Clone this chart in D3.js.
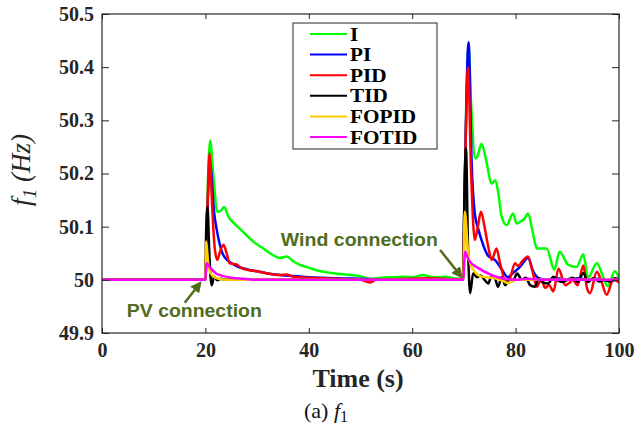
<!DOCTYPE html>
<html>
<head>
<meta charset="utf-8">
<script src="https://cdn.jsdelivr.net/npm/d3@7"></script>
<style>
  html, body { margin: 0; padding: 0; background: #fff; }
  svg { display: block; }
</style>
</head>
<body>
<svg id="chart" width="636" height="432"></svg>
<script>
// ---------------- DATA ----------------
const seriesNames = ["I", "PI", "PID", "TID", "FOPID", "FOTID"];
const seriesColors = ["#00ff00", "#0000ff", "#ff0000", "#000000", "#ffcc00", "#ff00ff"];
const xTicks = [0, 20, 40, 60, 80, 100];
const yTicks = [49.9, 50, 50.1, 50.2, 50.3, 50.4, 50.5];
const yTickLabels = ["49.9", "50", "50.1", "50.2", "50.3", "50.4", "50.5"];

// [time (s), f1 (Hz)]
const dataI = [[0,50],[20,50],[20.3,50.12],[20.9,50.262],[21.5,50.2],[22.3,50.128],[23.0,50.13],[23.6,50.137],[24.5,50.118],[25.9,50.103],[27,50.093],[28,50.083],[29.5,50.07],[31.2,50.059],[32.5,50.05],[34.4,50.041],[35.7,50.044],[37,50.035],[38.3,50.028],[40,50.023],[41.5,50.018],[43.5,50.014],[46,50.011],[48,50.009],[49.9,50.007],[51.8,50.002],[54,50.004],[56.3,50.005],[58.5,50.006],[60,50.005],[62.1,50.009],[63.5,50.006],[65.4,50.005],[66.5,50.006],[68,50.003],[69.8,50.002],[70.1,50.15],[70.9,50.44],[71.4,50.33],[72.2,50.228],[72.6,50.232],[73.4,50.256],[74.2,50.23],[75.4,50.181],[76.1,50.1875],[76.7,50.16],[77.3,50.119],[78.3,50.103],[79.5,50.125],[80.2,50.106],[81,50.11],[81.8,50.116],[82.4,50.125],[83.3,50.09],[84.1,50.059],[86,50.059],[87.5,50.019],[88.5,50.053],[90.2,50.028],[91.8,50.024],[93.1,50.048],[94,50.004],[95.7,50.031],[97,50.004],[97.8,49.988],[99.2,50.016],[100,50.003]];
const dataPI = [[0,50],[20,50],[20.3,50.1],[20.9,50.218],[21.7,50.125],[22.2,50.094],[23.3,50.05],[24.5,50.035],[26,50.026],[28,50.02],[30,50.016],[32,50.012],[34.4,50.009],[37,50.007],[40,50.005],[45,50.003],[50,50.002],[55,50.001],[60,50.001],[65,50.001],[69.8,50.001],[70.1,50.15],[70.9,50.447],[71.5,50.22],[72.1,50.125],[72.8,50.095],[73.4,50.075],[74.7,50.045],[76,50.0375],[77.3,50.02],[78.5,50.005],[79.4,50.012],[80.9,50.025],[82.4,50.041],[83.4,50.016],[84.5,50.003],[86,50.0],[88,50.003],[90,50.0],[92,50.003],[94,50.0],[96,50.002],[98,49.998],[100,50.001]];
const dataPID = [[0,50],[20,50],[20.3,50.1],[20.8,50.238],[21.3,50.14],[21.8,50.06],[22.3,50.0375],[22.9,50.055],[23.5,50.066],[24.1,50.05],[24.7,50.031],[25.4,50.03],[26,50.029],[27,50.022],[28,50.019],[30,50.016],[32,50.012],[34.4,50.009],[35.7,50.01],[37,50.006],[40,50.004],[45,50.002],[50,50.0],[51.8,49.995],[53,50.0],[56,50.001],[60,50.002],[63,50.003],[66,50.002],[69.8,50.001],[70.1,50.14],[70.8,50.40],[71.4,50.2],[72.1,50.075],[72.7,50.1],[73.3,50.128],[74.1,50.094],[74.7,50.0625],[75.4,50.0375],[76.3,50.059],[77,50.031],[78,50.0],[78.8,50.002],[79.9,50.031],[80.5,50.026],[81.3,50.035],[82.4,50.044],[83.3,50.015],[84.1,49.987],[85,50.0],[85.7,49.985],[86.5,49.99],[87.3,49.978],[88.3,50.021],[89.6,49.99],[90.5,49.995],[91,50.0],[92,49.99],[93.1,50.027],[93.8,49.985],[94.4,49.975],[95.7,50.015],[96.5,50.0],[97.6,49.972],[98.9,50.0],[100,49.995]];
const dataTID = [[0,50],[20,50],[20.1,50.07],[20.4,50.137],[20.8,50.04],[21.2,49.99],[21.7,50.006],[22.3,49.999],[23,50.002],[24,50.0],[26,50.001],[30,50.0],[40,50.0],[50,50.0],[60,50.0],[69.9,50.0],[70.05,50.12],[70.4,50.247],[70.8,50.06],[71.2,49.975],[71.8,50.0125],[72.5,50.005],[73.2,50.008],[74,50.0],[74.7,49.993],[75.3,50.006],[76,50.003],[76.6,49.987],[77.3,50.005],[78,49.99],[78.8,50.002],[79.5,49.998],[80.3,50.012],[81.2,50.0],[82,50.004],[82.8,49.99],[83.7,49.987],[84.5,50.003],[85.3,49.995],[86.3,49.993],[87.3,50.006],[88.3,49.998],[89.2,49.996],[90,50.0],[91,50.004],[92,49.996],[93.1,50.0125],[94,49.996],[95,50.003],[96.2,49.997],[97.2,50.0],[98.2,49.997],[99.2,50.003],[100,50.0]];
const dataFOPID = [[0,50],[20,50],[20.15,50.072],[20.5,50.035],[21,50.0125],[21.9,50.004],[23,50.001],[25,50.0],[69.9,50.0],[70.15,50.128],[70.9,50.044],[71.8,50.019],[73.4,50.006],[76,50.003],[77.5,49.998],[78.6,49.994],[80,50.0],[100,50.0]];
const dataFOTID = [[0,50],[20,50],[20.2,50.031],[21,50.022],[22,50.0125],[23.5,50.007],[25,50.004],[27.5,50.002],[30,50.0],[69.9,50.0],[70.2,50.053],[70.9,50.0375],[72.8,50.022],[75.4,50.009],[77.3,50.003],[80,50.0],[82.5,50.002],[85,50.0],[100,50.0]];
const allSeries = [dataI, dataPI, dataPID, dataTID, dataFOPID, dataFOTID];

// annotations in data units: [text, tText, vText, tTail, vTail, tHead, vHead]
const annPV = ["PV connection", 4.8, 49.931, 16.0, 49.957, 19.0, 49.994];
const annWind = ["Wind connection", 34.6, 50.064, 65.4, 50.056, 69.5, 50.006];

// ---------------- CHART ----------------
const svg = d3.select("#chart");
const L = 102, R = 619, T = 14, B = 333;
const x = d3.scaleLinear().domain([0, 100]).range([L, R]);
const y = d3.scaleLinear().domain([49.9, 50.5]).range([B, T]);
const axisColor = "#262626";
const serif = "'Liberation Serif', 'Times New Roman', serif";
const sans = "'Liberation Sans', Arial, sans-serif";

svg.append("defs").append("clipPath").attr("id", "clip")
  .append("rect").attr("x", L).attr("y", T).attr("width", R - L).attr("height", B - T);

// lines
const line = d3.line().x(d => x(d[0])).y(d => y(d[1])).curve(d3.curveMonotoneX);
const gLines = svg.append("g").attr("clip-path", "url(#clip)");
allSeries.forEach((s, i) => {
  gLines.append("path").datum(s)
    .attr("d", line)
    .attr("fill", "none")
    .attr("stroke", seriesColors[i])
    .attr("stroke-width", 2.5)
    .attr("stroke-linejoin", "round");
});

// axes
function styleAxis(g) {
  g.attr("font-family", null).attr("font-size", null);
  g.select(".domain").remove();
  g.selectAll(".tick line").attr("stroke", axisColor);
  g.selectAll(".tick text").attr("fill", axisColor)
    .style("font-family", serif).style("font-weight", "bold").style("font-size", "20px");
}
svg.append("g").attr("transform", `translate(0,${B})`)
  .call(d3.axisBottom(x).tickValues(xTicks).tickFormat(d3.format("d")).tickSize(-5).tickPadding(10))
  .call(styleAxis);
svg.append("g").attr("transform", `translate(0,${T})`)
  .call(d3.axisTop(x).tickValues(xTicks).tickFormat("").tickSize(-5))
  .call(styleAxis);
svg.append("g").attr("transform", `translate(${L},0)`)
  .call(d3.axisLeft(y).tickValues(yTicks).tickFormat((d, i) => yTickLabels[i]).tickSize(-7).tickPadding(8))
  .call(styleAxis);
svg.append("g").attr("transform", `translate(${R},0)`)
  .call(d3.axisRight(y).tickValues(yTicks).tickFormat("").tickSize(-7))
  .call(styleAxis);
svg.append("rect").attr("x", L).attr("y", T).attr("width", R - L).attr("height", B - T)
  .attr("fill", "none").attr("stroke", axisColor).attr("stroke-width", 1.2);

// labels
svg.append("text").attr("x", 358).attr("y", 387).attr("text-anchor", "middle")
  .style("font-family", serif).style("font-weight", "bold").style("font-size", "26px")
  .attr("fill", axisColor).text("Time (s)");

const yl = svg.append("text").attr("transform", "translate(30,170) rotate(-90)")
  .attr("text-anchor", "middle")
  .style("font-family", serif).style("font-style", "italic").style("font-size", "27px")
  .attr("fill", axisColor);
yl.append("tspan").text("f");
yl.append("tspan").attr("dy", 6).style("font-size", "19px").text("1");
yl.append("tspan").attr("dy", -6).text(" (Hz)");

const cap = svg.append("text").attr("x", 326).attr("y", 418).attr("text-anchor", "middle")
  .style("font-family", serif).style("font-size", "22px").attr("fill", "#111");
cap.append("tspan").text("(a) ");
cap.append("tspan").style("font-style", "italic").text("f");
cap.append("tspan").attr("dy", 4).style("font-size", "16px").text("1");

// legend
const lg = svg.append("g");
lg.append("rect").attr("x", 293).attr("y", 23).attr("width", 144).attr("height", 126)
  .attr("fill", "#fff").attr("stroke", axisColor).attr("stroke-width", 1);
seriesNames.forEach((n, i) => {
  const cy = 34 + i * 20.6;
  lg.append("line").attr("x1", 310).attr("x2", 347).attr("y1", cy).attr("y2", cy)
    .attr("stroke", seriesColors[i]).attr("stroke-width", 2);
  const t = lg.append("text").attr("x", 350).attr("y", cy + 6.5)
    .style("font-family", serif).style("font-weight", "bold").style("font-size", "18px")
    .attr("fill", "#000").text(n);
  const w = t.node().getComputedTextLength();
  t.attr("textLength", w * 1.18).attr("lengthAdjust", "spacingAndGlyphs");
});

// annotations
const annColor = "#4f6d1d";
svg.append("defs").append("marker").attr("id", "arrow")
  .attr("viewBox", "0 0 10 10").attr("refX", 8).attr("refY", 5)
  .attr("markerWidth", 4.5).attr("markerHeight", 4.5).attr("orient", "auto")
  .append("path").attr("d", "M0,0 L10,5 L0,10 z").attr("fill", annColor);
[[annPV, 135], [annWind, 157]].forEach(([a, len]) => {
  svg.append("text").attr("x", x(a[1])).attr("y", y(a[2]))
    .attr("textLength", len).attr("lengthAdjust", "spacingAndGlyphs")
    .style("font-family", sans).style("font-weight", "bold").style("font-size", "18.5px")
    .attr("fill", annColor).text(a[0]);
  svg.append("line").attr("x1", x(a[3])).attr("y1", y(a[4])).attr("x2", x(a[5])).attr("y2", y(a[6]))
    .attr("stroke", annColor).attr("stroke-width", 2.5).attr("marker-end", "url(#arrow)");
});
</script>
</body>
</html>
